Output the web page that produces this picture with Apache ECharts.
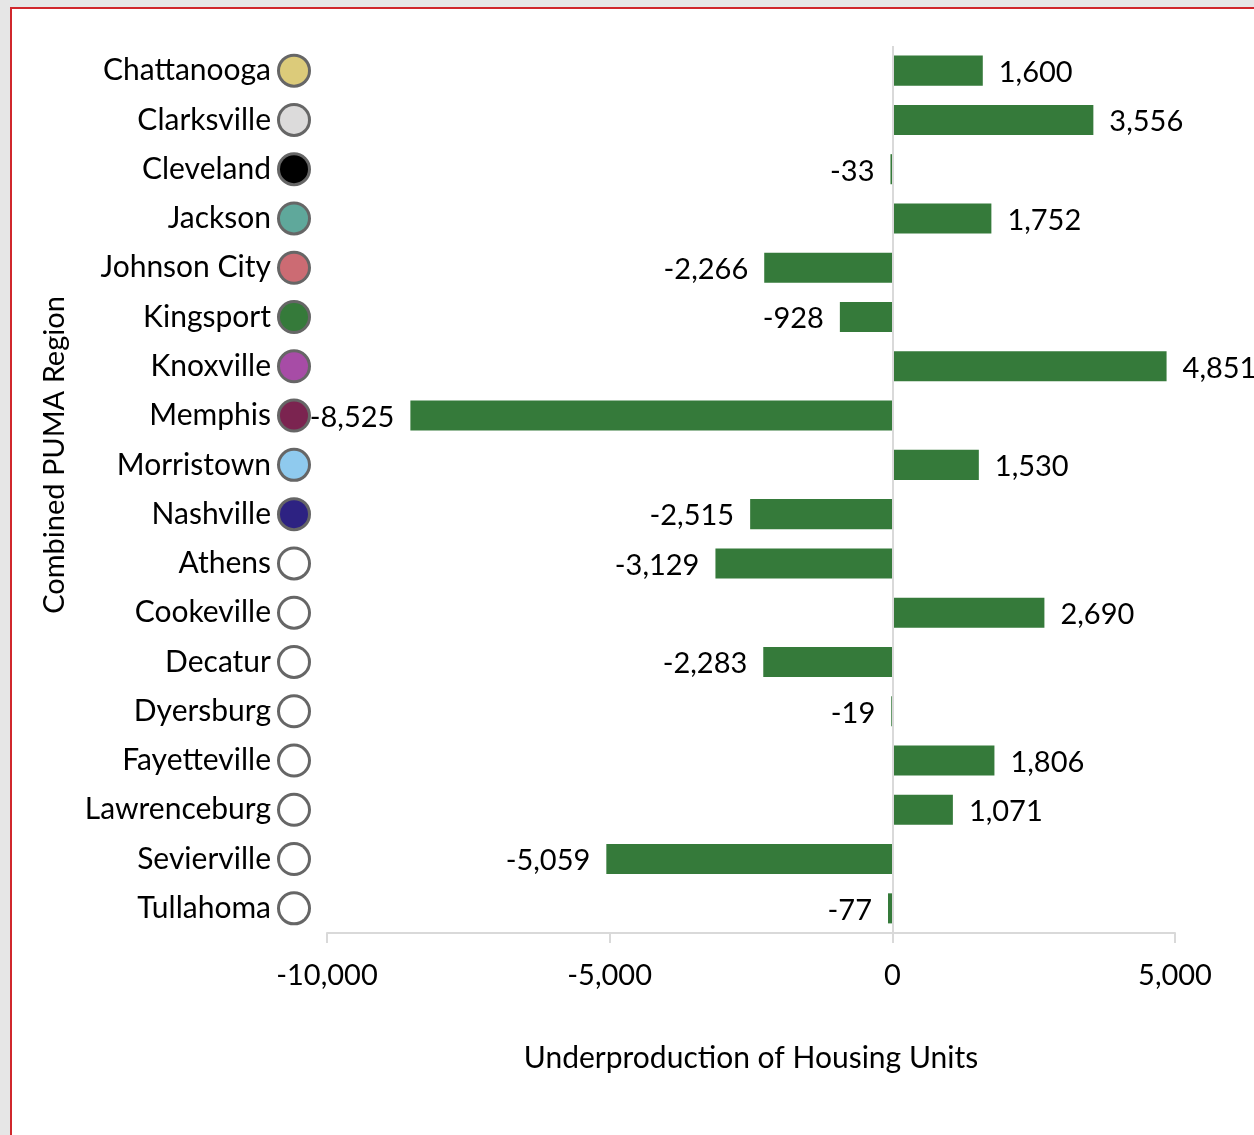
<!DOCTYPE html>
<html>
<head>
<meta charset="utf-8">
<script src="https://cdn.jsdelivr.net/npm/echarts@6/dist/echarts.min.js"></script>
<style>
    html, body { margin: 0; padding: 0; background: #e6e6e6; }
    #frame {
        position: absolute; left: 10px; top: 7px; width: 1260px; height: 1140px;
        background: #fff; border-left: 2px solid #d0272c; border-top: 2px solid #d0272c;
    }
    #main { position: absolute; left: 0; top: 0; width: 1254px; height: 1135px; }
</style>
</head>
<body>
<div id="frame"></div>
<div id="main"></div>
<script>
// 地区名称
const regions = ['Chattanooga', 'Clarksville', 'Cleveland', 'Jackson', 'Johnson City', 'Kingsport',
    'Knoxville', 'Memphis', 'Morristown', 'Nashville', 'Athens', 'Cookeville', 'Decatur',
    'Dyersburg', 'Fayetteville', 'Lawrenceburg', 'Sevierville', 'Tullahoma'];
// 住房缺口
const underproduction = [1600, 3556, -33, 1752, -2266, -928, 4851, -8525, 1530, -2515,
    -3129, 2690, -2283, -19, 1806, 1071, -5059, -77];
// 圆点颜色
const dotColors = ['#dccb7a', '#dcdbdb', '#000000', '#5fa89b', '#cc6b73', '#357a3a', '#a74ca6',
    '#7b2450', '#8fcaee', '#2d2282', '#ffffff', '#ffffff', '#ffffff', '#ffffff', '#ffffff',
    '#ffffff', '#ffffff', '#ffffff'];
const xTicks = [-10000, -5000, 0, 5000];

const fontFamily = 'Lato, "Open Sans", sans-serif';
const fmt = v => (v < 0 ? '-' : '') + Math.abs(v).toLocaleString('en-US');

const rich = {
    n: { fontSize: 30, color: '#000', fontFamily: fontFamily, padding: [0, 9, 0, 0] }
};
dotColors.forEach((c, i) => {
    rich['c' + i] = {
        width: 28, height: 28, borderRadius: 17,
        backgroundColor: c, borderColor: '#666666', borderWidth: 3
    };
});

const chart = echarts.init(document.getElementById('main'));
const option = {
    animation: false,
    textStyle: { fontFamily: fontFamily },
    grid: { left: 327, right: 79, top: 46, bottom: 202, containLabel: false },
    xAxis: {
        type: 'value',
        min: xTicks[0],
        max: xTicks[xTicks.length - 1],
        interval: 5000,
        name: 'Underproduction of Housing Units',
        nameLocation: 'middle',
        nameGap: 110,
        nameTextStyle: { fontSize: 30, color: '#000', fontFamily: fontFamily },
        axisLine: { show: true, lineStyle: { color: '#d9d9d9', width: 2 } },
        axisTick: { show: true, length: 10, lineStyle: { color: '#d9d9d9', width: 2 } },
        splitLine: { show: false },
        axisLabel: { fontSize: 29, color: '#000', margin: 28, formatter: fmt }
    },
    yAxis: {
        type: 'category',
        inverse: true,
        data: regions,
        axisLine: { show: false },
        axisTick: { show: false },
        axisLabel: {
            margin: 19,
            formatter: (v, i) => '{n|' + v + '}{c' + i + '|}',
            rich: rich
        }
    },
    graphic: [{
        type: 'text',
        x: 55, y: 455,
        rotation: Math.PI / 2,
        style: {
            text: 'Combined PUMA Region',
            fontSize: 29, fill: '#000', fontFamily: fontFamily,
            align: 'center', verticalAlign: 'middle'
        }
    }],
    series: [{
        type: 'bar',
        barCategoryGap: '39%',
        itemStyle: { color: '#357a3a' },
        data: underproduction.map(v => ({
            value: v,
            label: { position: v < 0 ? 'left' : 'right' }
        })),
        label: {
            show: true,
            distance: 16,
            fontSize: 29,
            color: '#000',
            fontFamily: fontFamily,
            offset: [0, 2],
            formatter: p => fmt(p.value)
        },
        markLine: {
            silent: true,
            symbol: 'none',
            label: { show: false },
            lineStyle: { color: '#d9d9d9', width: 2, type: 'solid' },
            data: [{ xAxis: 0 }]
        }
    }]
};
chart.setOption(option);
</script>
</body>
</html>
